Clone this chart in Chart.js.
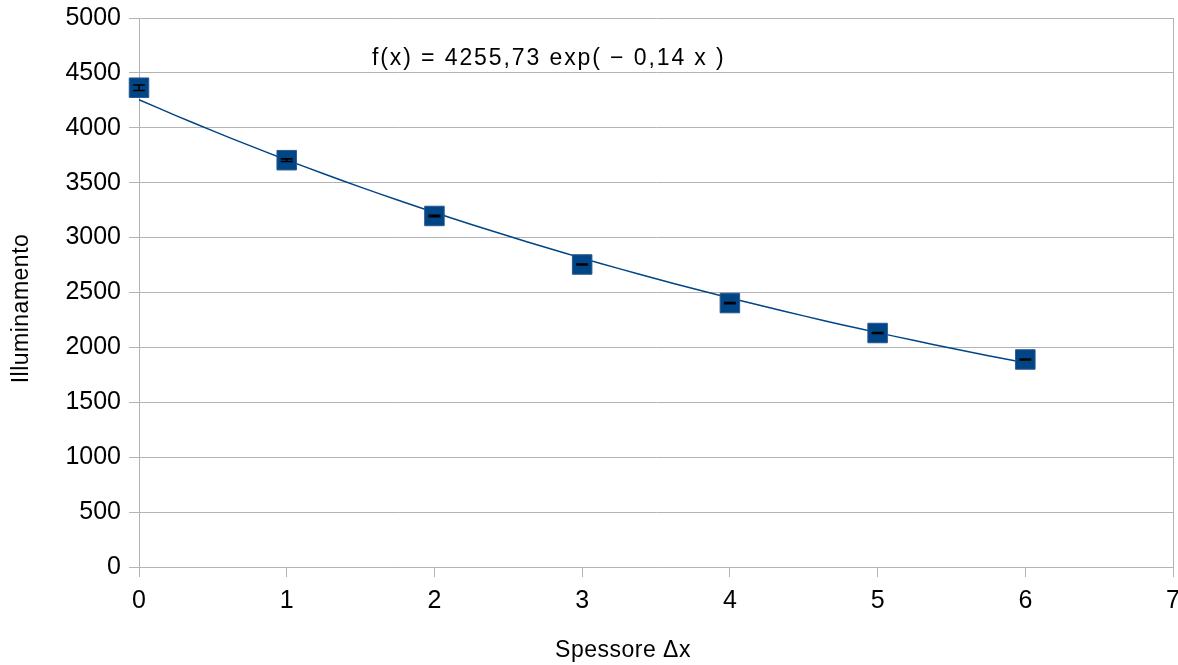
<!DOCTYPE html>
<html>
<head>
<meta charset="utf-8">
<script src="https://cdn.jsdelivr.net/npm/chart.js@4/dist/chart.umd.min.js"></script>
<style>
  html, body { margin: 0; padding: 0; background: #fff; overflow: hidden; }
  #wrap { width: 1178px; height: 665px; position: relative; overflow: hidden; }
  #c { position: absolute; left: 0; top: 0; }
</style>
</head>
<body>
<div id="wrap"><canvas id="c" width="1189" height="665"></canvas></div>
<script>
// Measured illuminance for each absorber thickness
const spessore = [0, 1, 2, 3, 4, 5, 6];
const illuminamento = [4365, 3705, 3197, 2755, 2404, 2131, 1890];
const errore = [25, 12, 6, 5, 5, 5, 5];

// Exponential trend line f(x) = A * exp(-K x)
const fitA = 4255.73;
const fitK = 0.138;
const fitX = [0, 0.25, 0.5, 0.75, 1, 1.25, 1.5, 1.75, 2, 2.25, 2.5, 2.75, 3, 3.25, 3.5, 3.75, 4, 4.25, 4.5, 4.75, 5, 5.25, 5.5, 5.75, 6];

const yTicks = [0, 500, 1000, 1500, 2000, 2500, 3000, 3500, 4000, 4500, 5000];
const xTicks = [0, 1, 2, 3, 4, 5, 6, 7];

const titoloX = 'Spessore \u0394x';
const titoloY = 'Illuminamento';

const fmt = (v, d) => v.toFixed(d).replace('.', ',');
const fitLabel = 'f(x) = ' + fmt(fitA, 2) + ' exp( \u2212 ' + fmt(fitK, 2) + ' x )';

const FONT = '"Liberation Sans", Arial, sans-serif';
const GRID = '#b3b3b3';
const BLUE = '#004586';

const errorBars = {
  id: 'errorBars',
  afterDatasetsDraw(chart) {
    const { ctx, scales: { x, y } } = chart;
    ctx.save();
    ctx.strokeStyle = '#000';
    ctx.lineWidth = 1.6;
    spessore.forEach((sx, i) => {
      const px = x.getPixelForValue(sx);
      const top = y.getPixelForValue(illuminamento[i] + errore[i]);
      const bot = y.getPixelForValue(illuminamento[i] - errore[i]);
      const cap = 6;
      ctx.beginPath();
      ctx.moveTo(px, top); ctx.lineTo(px, bot);
      ctx.moveTo(px - cap, top); ctx.lineTo(px + cap, top);
      ctx.moveTo(px - cap, bot); ctx.lineTo(px + cap, bot);
      ctx.stroke();
    });
    ctx.restore();
  }
};

// Fit equation and axis titles
const texts = {
  id: 'texts',
  afterDraw(chart) {
    const { ctx, chartArea: a } = chart;
    ctx.save();
    ctx.fillStyle = '#000';
    ctx.textBaseline = 'middle';

    ctx.font = '23px ' + FONT;
    ctx.letterSpacing = '1.9px';
    ctx.textAlign = 'left';
    ctx.fillText(fitLabel, 372, 59);

    ctx.letterSpacing = '0.5px';
    ctx.textAlign = 'center';
    ctx.fillText(titoloX, 623, 651);

    ctx.translate(22, (a.top + a.bottom) / 2 + 16);
    ctx.rotate(-Math.PI / 2);
    ctx.fillText(titoloY, 0, 0);
    ctx.restore();
  }
};

new Chart(document.getElementById('c'), {
  type: 'scatter',
  data: {
    datasets: [
      {
        type: 'line',
        data: fitX.map(v => ({ x: v, y: fitA * Math.exp(-fitK * v) })),
        borderColor: BLUE,
        borderWidth: 1.5,
        pointRadius: 0,
        tension: 0.4,
        fill: false,
        clip: false,
        order: 2
      },
      {
        data: spessore.map((v, i) => ({ x: v, y: illuminamento[i] })),
        pointStyle: 'rect',
        pointRadius: 13.8,
        backgroundColor: BLUE,
        borderColor: '#2a5a8e',
        borderWidth: 1,
        clip: false,
        order: 1
      }
    ]
  },
  options: {
    responsive: false,
    animation: false,
    layout: { padding: { top: 18, right: 4, left: 0, bottom: 0 } },
    plugins: { legend: { display: false }, tooltip: { enabled: false } },
    scales: {
      x: {
        type: 'linear',
        min: 0, max: 7,
        afterBuildTicks: s => { s.ticks = xTicks.map(v => ({ value: v })); },
        afterFit: s => { s.height = 98; },
        grid: {
          color: c => (c.tick && (c.tick.value === 0 || c.tick.value === 7)) ? GRID : 'rgba(0,0,0,0)',
          tickColor: GRID,
          tickLength: 10,
          drawOnChartArea: true
        },
        border: { color: GRID },
        ticks: { font: { size: 25, family: FONT }, color: '#000', padding: 9, maxRotation: 0, callback: v => String(v) }
      },
      y: {
        min: 0, max: 5000,
        afterBuildTicks: s => { s.ticks = yTicks.map(v => ({ value: v })); },
        afterFit: s => { s.width = 139; s.paddingTop = 0; s.paddingBottom = 0; },
        grid: { color: GRID, tickColor: GRID, tickLength: 10 },
        border: { color: GRID },
        ticks: { font: { size: 25, family: FONT }, color: '#000', padding: 8, callback: v => String(v) }
      }
    }
  },
  plugins: [errorBars, texts]
});
</script>
</body>
</html>
